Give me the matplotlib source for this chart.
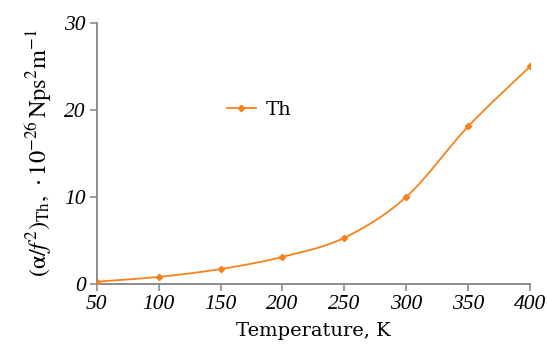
import numpy as np
import matplotlib.pyplot as plt

# Data
temperature = [50, 100, 150, 200, 250, 300, 350, 400]
alpha_th = [0.25, 0.8, 1.7, 3.1, 5.3, 10.0, 18.1, 25.0]
x_ticks = [50, 100, 150, 200, 250, 300, 350, 400]
y_ticks = [0, 10, 20, 30]

plt.rcParams['font.family'] = ['DejaVu Serif']
plt.rcParams['mathtext.fontset'] = 'stix'

ORANGE = '#f7821b'
GRAY = '#8c8c8c'


def catmull_rom(x, y, n=30):
    """Smooth curve through the points (uniform Catmull-Rom)"""
    x = np.asarray(x, float)
    y = np.asarray(y, float)
    px = np.concatenate([[2 * x[0] - x[1]], x, [2 * x[-1] - x[-2]]])
    py = np.concatenate([[2 * y[0] - y[1]], y, [2 * y[-1] - y[-2]]])
    xs, ys = [], []
    t = np.linspace(0, 1, n)
    for i in range(1, len(px) - 2):
        for p, out in ((px, xs), (py, ys)):
            p0, p1, p2, p3 = p[i - 1], p[i], p[i + 1], p[i + 2]
            out.extend(0.5 * ((2 * p1) + (-p0 + p2) * t
                              + (2 * p0 - 5 * p1 + 4 * p2 - p3) * t ** 2
                              + (-p0 + 3 * p1 - 3 * p2 + p3) * t ** 3))
    return np.array(xs), np.array(ys)


fig = plt.figure(figsize=(5.47, 3.47), dpi=100)
ax = fig.add_axes([0.177, 0.182, 0.792, 0.752])

sx, sy = catmull_rom(temperature, alpha_th)
ax.plot(sx, sy, color=ORANGE, linewidth=1.3, zorder=3)
ax.plot(temperature, alpha_th, linestyle='none', marker='D', markersize=3.2,
        color=ORANGE, zorder=4)
# legend handle: line with marker
ax.plot([], [], color=ORANGE, linewidth=1.3, marker='D', markersize=3.2, label='Th')

ax.set_xlim(50, 400)
ax.set_ylim(0, 30)
ax.set_xticks(x_ticks)
ax.set_yticks(y_ticks)
ax.tick_params(colors=GRAY, labelcolor='black', direction='out',
               length=5, width=1.2, pad=3)
for lab in ax.get_xticklabels() + ax.get_yticklabels():
    lab.set_fontfamily('Liberation Serif')
    lab.set_fontstyle('italic')
    lab.set_fontsize(15.5)

for side in ['top', 'right']:
    ax.spines[side].set_visible(False)
for side in ['left', 'bottom']:
    ax.spines[side].set_color(GRAY)
    ax.spines[side].set_linewidth(1.4)

ax.set_xlabel('Temperature, K', fontsize=14, labelpad=6)
ax.set_ylabel(r'$(\mathrm{\alpha}/f^2)_{\mathrm{Th}},\,\cdot 10^{-26}\,\mathrm{Nps^2m^{-1}}$',
              fontsize=17.5, labelpad=7)

ax.legend(loc='center left', bbox_to_anchor=(0.30, 0.667), frameon=False,
          fontsize=14, handlelength=1.5, handletextpad=0.5,
          borderaxespad=0, borderpad=0)

fig.savefig('out.png', dpi=100, facecolor='white')
